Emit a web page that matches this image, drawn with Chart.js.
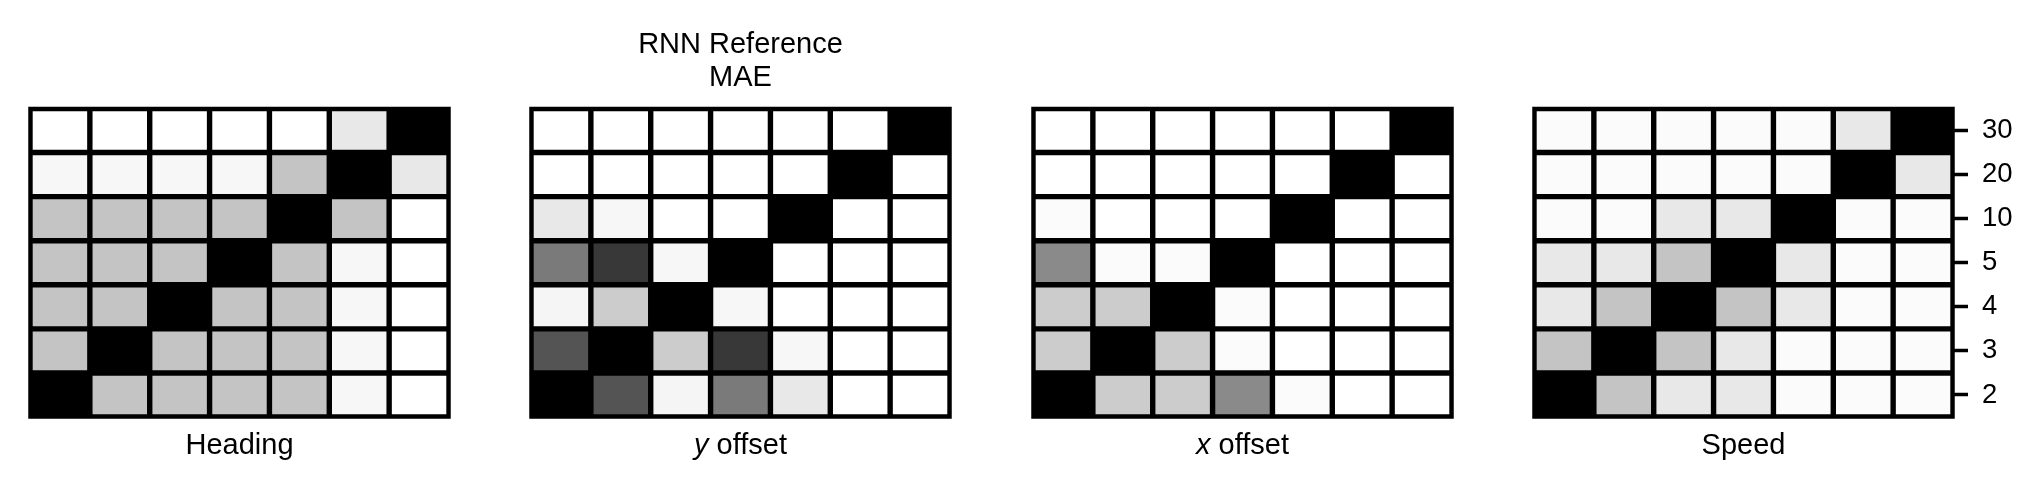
<!DOCTYPE html>
<html>
<head>
<meta charset="utf-8">
<script src="https://cdn.jsdelivr.net/npm/chart.js@4.4.0/dist/chart.umd.min.js"></script>
<style>
  body { margin: 0; background: #fff; }
  #fig { position: relative; width: 2043px; height: 495px; }
  .painel { position: absolute; top: 0; height: 495px; }
</style>
</head>
<body>
<div id="fig">
  <div class="painel" style="left:0px;width:479px"><canvas id="c-heading"></canvas></div>
  <div class="painel" style="left:501px;width:479px"><canvas id="c-yoffset"></canvas></div>
  <div class="painel" style="left:1003px;width:479px"><canvas id="c-xoffset"></canvas></div>
  <div class="painel" style="left:1504px;width:539px"><canvas id="c-speed"></canvas></div>
</div>
<script>
// tamanhos (eixo y à direita, e também as colunas)
const tamanhos = ["2", "3", "4", "5", "10", "20", "30"];

// intensidade de cada célula (0 = branco, 1 = preto); linha = y, coluna = x
const heading = [
  [1, 0.23, 0.23, 0.23, 0.23, 0.03, 0],
  [0.23, 1, 0.23, 0.23, 0.23, 0.03, 0],
  [0.23, 0.23, 1, 0.23, 0.23, 0.03, 0],
  [0.23, 0.23, 0.23, 1, 0.23, 0.03, 0],
  [0.23, 0.23, 0.23, 0.23, 1, 0.23, 0],
  [0.03, 0.03, 0.03, 0.03, 0.23, 1, 0.09],
  [0, 0, 0, 0, 0, 0.09, 1],
];
const yOffset = [
  [1, 0.67, 0.04, 0.52, 0.09, 0, 0],
  [0.67, 1, 0.2, 0.78, 0.03, 0, 0],
  [0.04, 0.2, 1, 0.03, 0, 0, 0],
  [0.52, 0.78, 0.03, 1, 0, 0, 0],
  [0.09, 0.03, 0, 0, 1, 0, 0],
  [0, 0, 0, 0, 0, 1, 0],
  [0, 0, 0, 0, 0, 0, 1],
];
const xOffset = [
  [1, 0.2, 0.2, 0.46, 0.015, 0, 0],
  [0.2, 1, 0.2, 0.015, 0, 0, 0],
  [0.2, 0.2, 1, 0.015, 0, 0, 0],
  [0.46, 0.015, 0.015, 1, 0, 0, 0],
  [0.015, 0, 0, 0, 1, 0, 0],
  [0, 0, 0, 0, 0, 1, 0],
  [0, 0, 0, 0, 0, 0, 1],
];
const speed = [
  [1, 0.23, 0.09, 0.09, 0.015, 0.015, 0.015],
  [0.23, 1, 0.23, 0.09, 0.015, 0.015, 0.015],
  [0.09, 0.23, 1, 0.23, 0.09, 0.015, 0.015],
  [0.09, 0.09, 0.23, 1, 0.09, 0.015, 0.015],
  [0.015, 0.015, 0.09, 0.09, 1, 0.015, 0.015],
  [0.015, 0.015, 0.015, 0.015, 0.015, 1, 0.09],
  [0.015, 0.015, 0.015, 0.015, 0.015, 0.09, 1],
];

const FONTE = '"Liberation Sans", Arial, sans-serif';
Chart.defaults.font.family = FONTE;
Chart.defaults.color = "#000";

// escala de cinza
function cinza(v) {
  const g = Math.round(255 * (1 - v));
  return `rgb(${g}, ${g}, ${g})`;
}

// fundo preto + moldura em volta da área do gráfico
const moldura = {
  id: "moldura",
  beforeDatasetsDraw(chart) {
    const { ctx, chartArea: a } = chart;
    ctx.save();
    ctx.fillStyle = "#000";
    ctx.fillRect(a.left, a.top, a.right - a.left, a.bottom - a.top);
    ctx.restore();
  },
  afterDatasetsDraw(chart) {
    const { ctx, chartArea: a } = chart;
    ctx.save();
    ctx.strokeStyle = "#000";
    ctx.lineWidth = 3.5;
    ctx.strokeRect(a.left, a.top, a.right - a.left, a.bottom - a.top);
    ctx.restore();
  },
};

// rótulo do eixo x (com partes em itálico)
const rotuloX = {
  id: "rotuloX",
  afterDraw(chart, args, opts) {
    const { ctx, chartArea: a } = chart;
    const partes = opts.partes || [];
    ctx.save();
    ctx.fillStyle = "#000";
    ctx.textBaseline = "middle";
    ctx.textAlign = "left";
    const fontes = partes.map((p) => `${p[1] ? "italic " : ""}29px ${FONTE}`);
    let total = 0;
    partes.forEach((p, i) => {
      ctx.font = fontes[i];
      total += ctx.measureText(p[0]).width;
    });
    let x = (a.left + a.right) / 2 - total / 2;
    partes.forEach((p, i) => {
      ctx.font = fontes[i];
      ctx.fillText(p[0], x, 446);
      x += ctx.measureText(p[0]).width;
    });
    ctx.restore();
  },
};

function criarPainel(id, matriz, partes, opcoes) {
  const ctx = document.getElementById(id).getContext("2d");
  const comTitulo = !!opcoes.titulo;
  const comEixo = !!opcoes.eixoY;

  // uma série por coluna, empilhadas na horizontal
  const datasets = tamanhos.map((t, j) => ({
    label: t,
    data: tamanhos.map(() => 1),
    backgroundColor: matriz.map((linha) => cinza(linha[j])),
    borderColor: "#000",
    borderWidth: 2.7,
    borderSkipped: false,
    inflateAmount: 0,
    barPercentage: 1,
    categoryPercentage: 1,
  }));

  const eixoY = {
    type: "category",
    stacked: true,
    reverse: true,
    display: comEixo,
    position: "right",
    border: { display: false },
    grid: {
      offset: false,
      drawOnChartArea: false,
      drawTicks: true,
      tickLength: 15,
      tickWidth: 3.5,
      tickColor: "#000",
    },
    ticks: { font: { size: 27.5 }, padding: 14, color: "#000" },
  };
  if (comEixo) {
    eixoY.afterFit = (scale) => { scale.width = 90; };
  }

  new Chart(ctx, {
    type: "bar",
    data: { labels: tamanhos, datasets: datasets },
    plugins: [moldura, rotuloX],
    options: {
      indexAxis: "y",
      responsive: true,
      maintainAspectRatio: false,
      animation: false,
      devicePixelRatio: 1,
      layout: {
        padding: { left: 30, right: comEixo ? 0 : 30, top: comTitulo ? 0 : 108.5, bottom: 78 },
      },
      plugins: {
        legend: { display: false },
        tooltip: { enabled: false },
        title: {
          display: comTitulo,
          text: opcoes.titulo || "",
          font: { size: 29, weight: "normal", lineHeight: 33 / 29 },
          padding: { top: 28, bottom: 14.5 },
        },
        rotuloX: { partes: partes },
      },
      scales: {
        x: { type: "linear", stacked: true, min: 0, max: 7, display: false },
        y: eixoY,
      },
    },
  });
}

document.addEventListener("DOMContentLoaded", () => {
  criarPainel("c-heading", heading, [["Heading", false]], {});
  criarPainel("c-yoffset", yOffset, [["y", true], [" offset", false]], { titulo: ["RNN Reference", "MAE"] });
  criarPainel("c-xoffset", xOffset, [["x", true], [" offset", false]], {});
  criarPainel("c-speed", speed, [["Speed", false]], { eixoY: true });
});
</script>
</body>
</html>
